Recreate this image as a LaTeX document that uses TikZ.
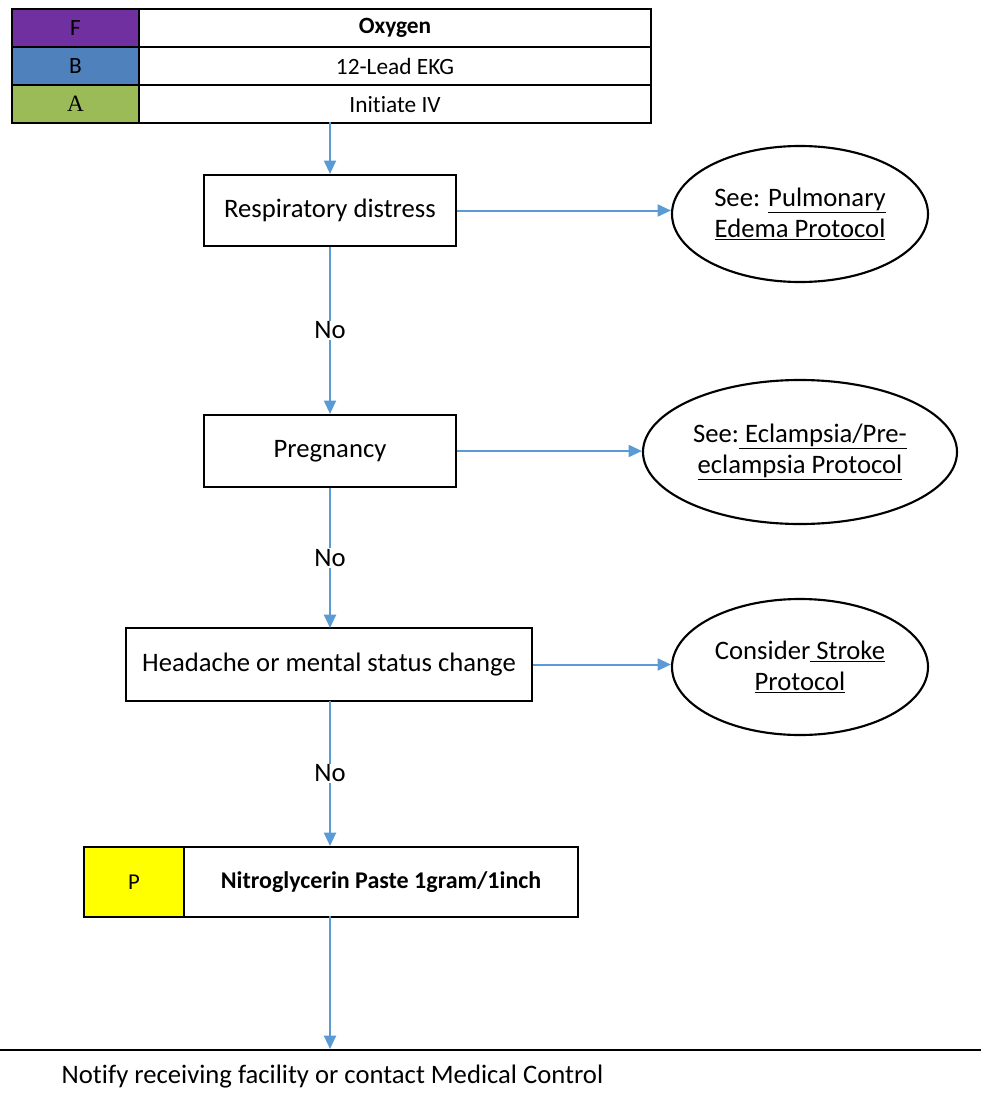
\documentclass[tikz,border=0pt]{standalone}
\usepackage{fontspec}
\setmainfont{Carlito}[Ligatures=NoCommon]
\newfontfamily\serifA{Liberation Serif}
\usetikzlibrary{arrows.meta,shapes.geometric}
\definecolor{flowblue}{HTML}{5B9BD5}
\definecolor{cellF}{HTML}{7030A0}
\definecolor{cellB}{HTML}{4F81BD}
\definecolor{cellA}{HTML}{9BBB59}
\definecolor{cellP}{HTML}{FFFF00}
\tikzset{
  x=0.75pt, y=-0.75pt,
  cell/.style={draw=black, line width=1.6pt, inner sep=0pt, anchor=north west,
    font=\fontsize{17.5}{19}\selectfont},
  stepbox/.style={draw=black, line width=1.6pt, inner sep=0pt,
    font=\fontsize{20}{23}\selectfont},
  oval/.style={ellipse, draw=black, line width=1.6pt, inner sep=0pt,
    align=center, font=\fontsize{20}{23.3}\selectfont},
  flow/.style={draw=flowblue, line width=1.5pt,
    -{Triangle[length=10pt,width=9pt]}},
  lbl/.style={font=\fontsize{20}{23}\selectfont, fill=white, inner sep=1pt},
}
\begin{document}
\begin{tikzpicture}
\useasboundingbox (0,0) rectangle (981,1099);

% order table
\node[cell, fill=cellF, minimum width=127*0.75pt, minimum height=38*0.75pt] (f) at (11,8) {F};
\node[cell, minimum width=512*0.75pt, minimum height=38*0.75pt] (oxy) at (138,8) {\bfseries Oxygen};
\node[cell, fill=cellB, minimum width=127*0.75pt, minimum height=38*0.75pt] (b) at (11,46) {B};
\node[cell, minimum width=512*0.75pt, minimum height=38*0.75pt] (ekg) at (138,46) {12-Lead EKG};
\node[cell, fill=cellA, minimum width=127*0.75pt, minimum height=38*0.75pt] (a) at (11,84) {\serifA A};
\node[cell, minimum width=512*0.75pt, minimum height=38*0.75pt] (iv) at (138,84) {Initiate IV};
\coordinate (tablebot) at (330,122);

% decision steps
\node[stepbox, minimum width=252*0.75pt, minimum height=71*0.75pt] (resp) at (330,210.5) {Respiratory distress};
\node[stepbox, minimum width=252*0.75pt, minimum height=72*0.75pt] (preg) at (330,451) {Pregnancy};
\node[stepbox, minimum width=406*0.75pt, minimum height=73*0.75pt] (head) at (329,664.5) {Headache or mental status change};

% referral ovals
\node[oval, minimum width=256*0.75pt, minimum height=136*0.75pt] (pulm) at (800,214)
  {See: \underline{Pulmonary}\\\underline{Edema Protocol}};
\node[oval, minimum width=314*0.75pt, minimum height=144*0.75pt] (ecl) at (800,452)
  {See:\underline{ Eclampsia/Pre-}\\\underline{eclampsia Protocol}};
\node[oval, minimum width=256*0.75pt, minimum height=136*0.75pt] (stroke) at (800,667)
  {Consider\underline{ Stroke}\\\underline{Protocol}};

% medication row
\node[cell, fill=cellP, minimum width=100*0.75pt, minimum height=70*0.75pt,
  font=\fontsize{17}{19}\selectfont] (p) at (83,846) {P};
\node[cell, minimum width=394*0.75pt, minimum height=70*0.75pt,
  font=\fontsize{18}{20}\selectfont\bfseries] (nitro) at (183,846) {Nitroglycerin Paste 1gram/1inch};

% closing rule and note
\draw[black, line width=1.6pt] (0,1050) -- (981,1050);
\coordinate (rule) at (330,1049);
\node[anchor=west, font=\fontsize{20}{23}\selectfont] (notify) at (57,1077)
  {Notify receiving facility or contact Medical Control};

% connectors
\draw[flow] (tablebot) -- (resp.north);
\draw[flow] (resp.east) -- (pulm.west |- resp.east);
\draw[flow] (resp.south) -- (preg.north) node[lbl, pos=0.5] (no1) {No};
\draw[flow] (preg.east) -- (ecl.west |- preg.east);
\draw[flow] (preg.south) -- (330,628) node[lbl, pos=0.5] (no2) {No};
\draw[flow] (head.east) -- (stroke.west |- head.east);
\draw[flow] (330,701) -- (330,846) node[lbl, pos=0.5] (no3) {No};
\draw[flow] (330,916) -- (rule);
\end{tikzpicture}
\end{document}
